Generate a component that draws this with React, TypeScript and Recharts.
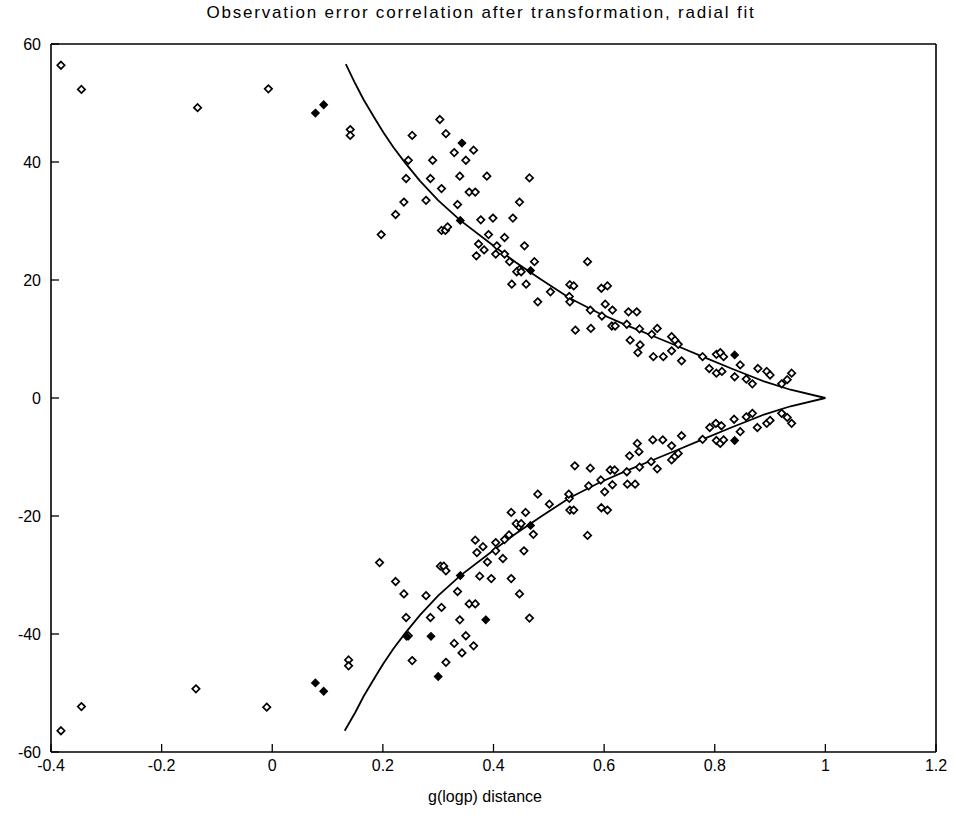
import React from 'react';
import { ScatterChart, Scatter, XAxis, YAxis } from 'recharts';

const xTicks = [-0.4, -0.2, 0, 0.2, 0.4, 0.6, 0.8, 1, 1.2];
const yTicks = [-60, -40, -20, 0, 20, 40, 60];

const titleText = 'Observation error correlation after transformation, radial fit';
const xLabelText = 'g(logp) distance';

const upperPoints: [number, number][] = [
  [-0.382, 56.4], [-0.345, 52.3], [-0.135, 49.2], [-0.007, 52.4], [0.141, 45.5], [0.141, 44.5],
  [0.303, 47.2], [0.253, 44.5], [0.314, 44.8], [0.329, 41.6], [0.364, 42.0], [0.246, 40.3],
  [0.290, 40.3], [0.350, 40.3], [0.242, 37.2], [0.286, 37.2], [0.339, 37.6], [0.388, 37.6],
  [0.465, 37.3], [0.306, 35.5], [0.356, 34.9], [0.367, 34.9], [0.238, 33.2], [0.278, 33.5],
  [0.335, 32.8], [0.447, 33.2], [0.223, 31.1], [0.377, 30.2], [0.399, 30.5], [0.435, 30.5],
  [0.306, 28.4], [0.313, 28.4], [0.317, 29.0], [0.197, 27.7], [0.391, 27.7], [0.420, 27.2],
  [0.373, 26.1], [0.406, 25.8], [0.456, 25.8], [0.383, 25.1], [0.404, 24.4], [0.369, 24.1],
  [0.420, 24.4], [0.429, 23.1], [0.474, 23.1], [0.447, 21.8], [0.442, 21.4], [0.450, 21.4],
  [0.433, 19.3], [0.459, 19.3], [0.503, 18.0], [0.480, 16.3], [0.538, 19.2], [0.545, 19.0],
  [0.537, 17.2], [0.538, 16.3], [0.570, 23.1], [0.595, 18.6], [0.606, 19.0], [0.602, 15.9],
  [0.615, 14.9], [0.575, 14.9], [0.596, 13.9], [0.644, 14.6], [0.659, 14.6], [0.614, 12.2],
  [0.620, 12.2], [0.548, 11.5], [0.576, 11.8], [0.696, 11.8], [0.641, 12.5], [0.664, 11.7],
  [0.647, 9.8], [0.665, 9.0], [0.661, 7.7], [0.689, 7.0], [0.707, 7.0], [0.686, 10.8],
  [0.722, 10.4], [0.728, 9.8], [0.734, 9.1], [0.722, 8.0], [0.740, 6.3], [0.778, 7.0],
  [0.803, 7.4], [0.810, 7.7], [0.816, 7.0], [0.846, 5.6], [0.790, 5.0], [0.803, 4.2],
  [0.813, 4.5], [0.836, 3.6], [0.857, 3.2], [0.868, 2.4], [0.878, 5.0], [0.894, 4.5],
  [0.900, 3.9], [0.921, 2.4], [0.931, 3.1], [0.939, 4.2],
];

const lowerPoints: [number, number][] = [
  [-0.382, -56.4], [-0.345, -52.3], [-0.138, -49.3], [-0.010, -52.4], [0.138, -44.4], [0.138, -45.4],
  [0.253, -44.5], [0.314, -44.8], [0.343, -43.2], [0.329, -41.6], [0.364, -42.0], [0.246, -40.3],
  [0.350, -40.3], [0.242, -37.2], [0.286, -37.2], [0.339, -37.6],
  [0.465, -37.3], [0.306, -35.5], [0.356, -34.9], [0.367, -34.9], [0.238, -33.2], [0.278, -33.5],
  [0.335, -32.8], [0.447, -33.2], [0.223, -31.1], [0.375, -30.2], [0.396, -30.6], [0.432, -30.6],
  [0.304, -28.5], [0.310, -28.5], [0.314, -29.3], [0.194, -27.9], [0.389, -27.8], [0.417, -27.2],
  [0.370, -26.2], [0.404, -25.9], [0.455, -25.9], [0.381, -25.2], [0.404, -24.5], [0.367, -24.1],
  [0.420, -24.0], [0.428, -23.2], [0.472, -23.1], [0.446, -21.8], [0.441, -21.3], [0.450, -21.3],
  [0.432, -19.4], [0.458, -19.4], [0.501, -18.0], [0.480, -16.3], [0.538, -19.0], [0.545, -19.0],
  [0.537, -17.0], [0.536, -16.3], [0.570, -23.3], [0.595, -18.6], [0.606, -19.0], [0.601, -15.9],
  [0.615, -14.7], [0.572, -14.9], [0.594, -13.9], [0.642, -14.6], [0.656, -14.6], [0.611, -12.2],
  [0.619, -12.2], [0.547, -11.5], [0.575, -11.9], [0.696, -12.0], [0.641, -12.5], [0.664, -11.7],
  [0.646, -9.8], [0.663, -9.1], [0.660, -7.7], [0.688, -7.1], [0.706, -7.1], [0.685, -10.8],
  [0.722, -10.5], [0.728, -9.9], [0.734, -9.4], [0.722, -8.1], [0.740, -6.4], [0.778, -7.0],
  [0.803, -7.2], [0.810, -7.7], [0.816, -7.1], [0.846, -5.7], [0.791, -5.0], [0.802, -4.3],
  [0.812, -4.7], [0.835, -3.6], [0.857, -3.2], [0.868, -2.6], [0.877, -5.0], [0.894, -4.3],
  [0.900, -3.8], [0.921, -2.6], [0.931, -3.3], [0.939, -4.3],
];

const filledPoints: [number, number][] = [
  [0.078, 48.3], [0.093, 49.7], [0.343, 43.2], [0.340, 30.1], [0.467, 21.6], [0.836, 7.3],
  [0.078, -48.3], [0.093, -49.7], [0.300, -47.2], [0.386, -37.6], [0.287, -40.4], [0.243, -40.4],
  [0.340, -30.1], [0.467, -21.6], [0.836, -7.2],
];

const upperCurve: [number, number][] = [
  [0.133, 56.6], [0.150, 53.3], [0.165, 50.6], [0.186, 47.3], [0.201, 45.0], [0.219, 42.5],
  [0.240, 39.9], [0.267, 36.8], [0.300, 33.5], [0.340, 30.1], [0.400, 25.8], [0.440, 23.0],
  [0.484, 20.2], [0.538, 16.9], [0.590, 14.4], [0.641, 12.3], [0.686, 10.6], [0.730, 8.9],
  [0.778, 7.0], [0.830, 5.0], [0.889, 2.8], [0.937, 1.4], [1.000, 0],
];

const lowerCurve: [number, number][] = [
  [0.131, -56.4], [0.150, -53.3], [0.165, -50.6], [0.186, -47.3], [0.201, -45.0], [0.219, -42.5],
  [0.240, -39.9], [0.267, -36.8], [0.300, -33.5], [0.340, -30.1], [0.400, -25.8], [0.440, -23.0],
  [0.484, -20.2], [0.538, -16.9], [0.590, -14.4], [0.641, -12.3], [0.686, -10.6], [0.730, -8.9],
  [0.778, -7.0], [0.830, -5.0], [0.889, -2.8], [0.937, -1.4], [1.000, 0],
];

const toXY = (arr: [number, number][]) => arr.map(([x, y]) => ({ x, y }));

const FONT = '"Liberation Sans", Arial, Helvetica, sans-serif';

const Diamond = (props: any) => {
  const { cx, cy } = props;
  if (cx == null || cy == null) return <g />;
  const r = 3.7;
  return (
    <polygon
      points={`${cx},${cy - r} ${cx + r},${cy} ${cx},${cy + r} ${cx - r},${cy}`}
      fill="#fff"
      stroke="#000"
      strokeWidth={1.7}
    />
  );
};

const FilledDiamond = (props: any) => {
  const { cx, cy } = props;
  if (cx == null || cy == null) return <g />;
  const r = 3.8;
  return (
    <polygon
      points={`${cx},${cy - r} ${cx + r},${cy} ${cx},${cy + r} ${cx - r},${cy}`}
      fill="#000"
      stroke="#000"
      strokeWidth={1.2}
    />
  );
};

const NoShape = () => <g />;
const BlankTick = () => <g />;

const fmt = (v: number) => String(v);

export default function App() {
  const tickStyle = { fill: '#000', fontSize: 16, fontFamily: FONT };
  return (
    <div
      style={{
        position: 'absolute',
        left: 0,
        top: 0,
        width: 956,
        height: 818,
        background: '#fff',
        fontFamily: FONT,
        overflow: 'hidden',
      }}
    >
      <div
        style={{
          position: 'absolute',
          left: 0,
          width: 962,
          top: 3,
          textAlign: 'center',
          fontSize: 17,
          letterSpacing: '1.8px',
          color: '#000',
          lineHeight: '19px',
        }}
      >
        {titleText}
      </div>
      <ScatterChart width={956} height={818} margin={{ top: 43, right: 19, bottom: 26, left: 0 }}>
        <XAxis
          xAxisId="b"
          type="number"
          dataKey="x"
          domain={[-0.4, 1.2]}
          ticks={xTicks}
          tickFormatter={fmt}
          height={40}
          stroke="#000"
          axisLine={{ stroke: '#000', strokeWidth: 1.6 }}
          tickLine={{ stroke: '#000', strokeWidth: 1.3 }}
          tickSize={-8}
          tickMargin={16}
          tick={tickStyle}
          interval={0}
        />
        <XAxis
          xAxisId="t"
          orientation="top"
          type="number"
          dataKey="x"
          domain={[-0.4, 1.2]}
          ticks={xTicks}
          height={1}
          stroke="#000"
          axisLine={{ stroke: '#000', strokeWidth: 1.6 }}
          tickLine={{ stroke: '#000', strokeWidth: 1.3 }}
          tickSize={-8}
          tick={BlankTick}
          interval={0}
        />
        <YAxis
          yAxisId="l"
          type="number"
          dataKey="y"
          domain={[-60, 60]}
          ticks={yTicks}
          tickFormatter={fmt}
          width={51}
          stroke="#000"
          axisLine={{ stroke: '#000', strokeWidth: 1.6 }}
          tickLine={{ stroke: '#000', strokeWidth: 1.3 }}
          tickSize={-8}
          tickMargin={18}
          tick={tickStyle}
          interval={0}
        />
        <YAxis
          yAxisId="r"
          orientation="right"
          type="number"
          dataKey="y"
          domain={[-60, 60]}
          ticks={yTicks}
          width={1}
          stroke="#000"
          axisLine={{ stroke: '#000', strokeWidth: 1.6 }}
          tickLine={{ stroke: '#000', strokeWidth: 1.3 }}
          tickSize={-8}
          tick={BlankTick}
          interval={0}
        />
        <Scatter
          xAxisId="b"
          yAxisId="l"
          data={toXY(upperCurve)}
          line={{ stroke: '#000', strokeWidth: 1.8 }}
          shape={NoShape}
          isAnimationActive={false}
        />
        <Scatter
          xAxisId="b"
          yAxisId="l"
          data={toXY(lowerCurve)}
          line={{ stroke: '#000', strokeWidth: 1.8 }}
          shape={NoShape}
          isAnimationActive={false}
        />
        <Scatter xAxisId="b" yAxisId="l" data={toXY(upperPoints)} shape={Diamond} isAnimationActive={false} />
        <Scatter xAxisId="b" yAxisId="l" data={toXY(lowerPoints)} shape={Diamond} isAnimationActive={false} />
        <Scatter xAxisId="b" yAxisId="l" data={toXY(filledPoints)} shape={FilledDiamond} isAnimationActive={false} />
      </ScatterChart>
      <div
        style={{
          position: 'absolute',
          left: 0,
          width: 970,
          top: 788,
          textAlign: 'center',
          fontSize: 16,
          color: '#000',
          lineHeight: '18px',
        }}
      >
        {xLabelText}
      </div>
    </div>
  );
}
